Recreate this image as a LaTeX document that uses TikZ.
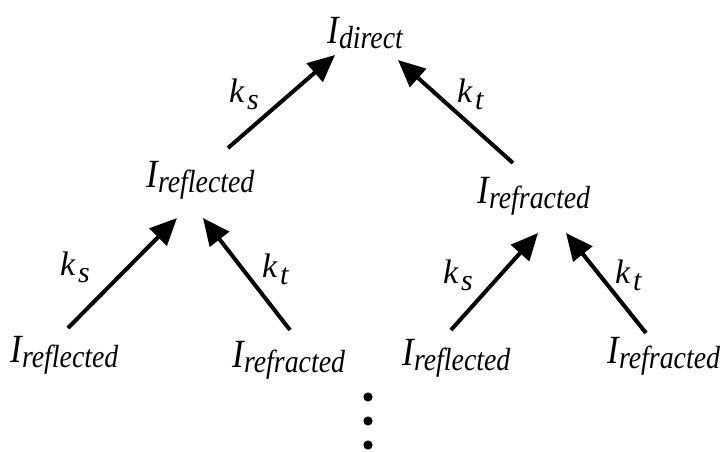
\documentclass[tikz,border=0pt]{standalone}
\usepackage{fontspec}
\setmainfont{Liberation Serif}
\usetikzlibrary{arrows.meta}
\newcommand{\Ilab}[1]{\scalebox{0.87}[1]{\fontsize{40}{44}\selectfont\itshape I\kern0.5pt\raisebox{-5pt}{\fontsize{32}{36}\selectfont #1}}}
\newcommand{\klab}[1]{{\fontsize{34}{38}\selectfont\itshape k\kern3pt\raisebox{-7pt}{\fontsize{30}{34}\selectfont #1}}}
\tikzset{
  lbl/.style={inner sep=0pt, outer sep=0pt, anchor=base west},
  arr/.style={line width=4pt, -{Triangle[length=27pt,width=24pt]}},
  vdot/.style={fill=black, draw=none}
}
\begin{document}
\begin{tikzpicture}[x=1pt,y=-1pt]
\useasboundingbox (0,0) rectangle (727,451);
% text nodes
\node[lbl] (dir) at (327,43) {\Ilab{direct}};
\node[lbl] (rfl) at (146,187) {\Ilab{reflected}};
\node[lbl] (rfr) at (477,203) {\Ilab{refracted}};
\node[lbl] (rfl1) at (10,362) {\Ilab{reflected}};
\node[lbl] (rfr1) at (232,367) {\Ilab{refracted}};
\node[lbl] (rfl2) at (402,365) {\Ilab{reflected}};
\node[lbl] (rfr2) at (607,363) {\Ilab{refracted}};
% k labels
\node[lbl] (ks0) at (229,102) {\klab{s}};
\node[lbl] (kt0) at (457,102) {\klab{t}};
\node[lbl] (ks1) at (60,275) {\klab{s}};
\node[lbl] (kt1) at (262,277) {\klab{t}};
\node[lbl] (ks2) at (443,283) {\klab{s}};
\node[lbl] (kt2) at (615,283) {\klab{t}};
% arrow end points
\coordinate (t1) at (228,148); \coordinate (h1) at (335,55);
\coordinate (t2) at (513,163); \coordinate (h2) at (398,60);
\coordinate (t3) at (68,328);  \coordinate (h3) at (177,218);
\coordinate (t4) at (290,330); \coordinate (h4) at (203,218);
\coordinate (t5) at (451,330); \coordinate (h5) at (538,233);
\coordinate (t6) at (646,333); \coordinate (h6) at (566,233);
\draw[arr] (t1) -- (h1);
\draw[arr] (t2) -- (h2);
\draw[arr] (t3) -- (h3);
\draw[arr] (t4) -- (h4);
\draw[arr] (t5) -- (h5);
\draw[arr] (t6) -- (h6);
% vertical dots
\fill[vdot] (368,397) circle (4.6);
\fill[vdot] (368,421) circle (4.6);
\fill[vdot] (368,445) circle (4.6);
\end{tikzpicture}
\end{document}
